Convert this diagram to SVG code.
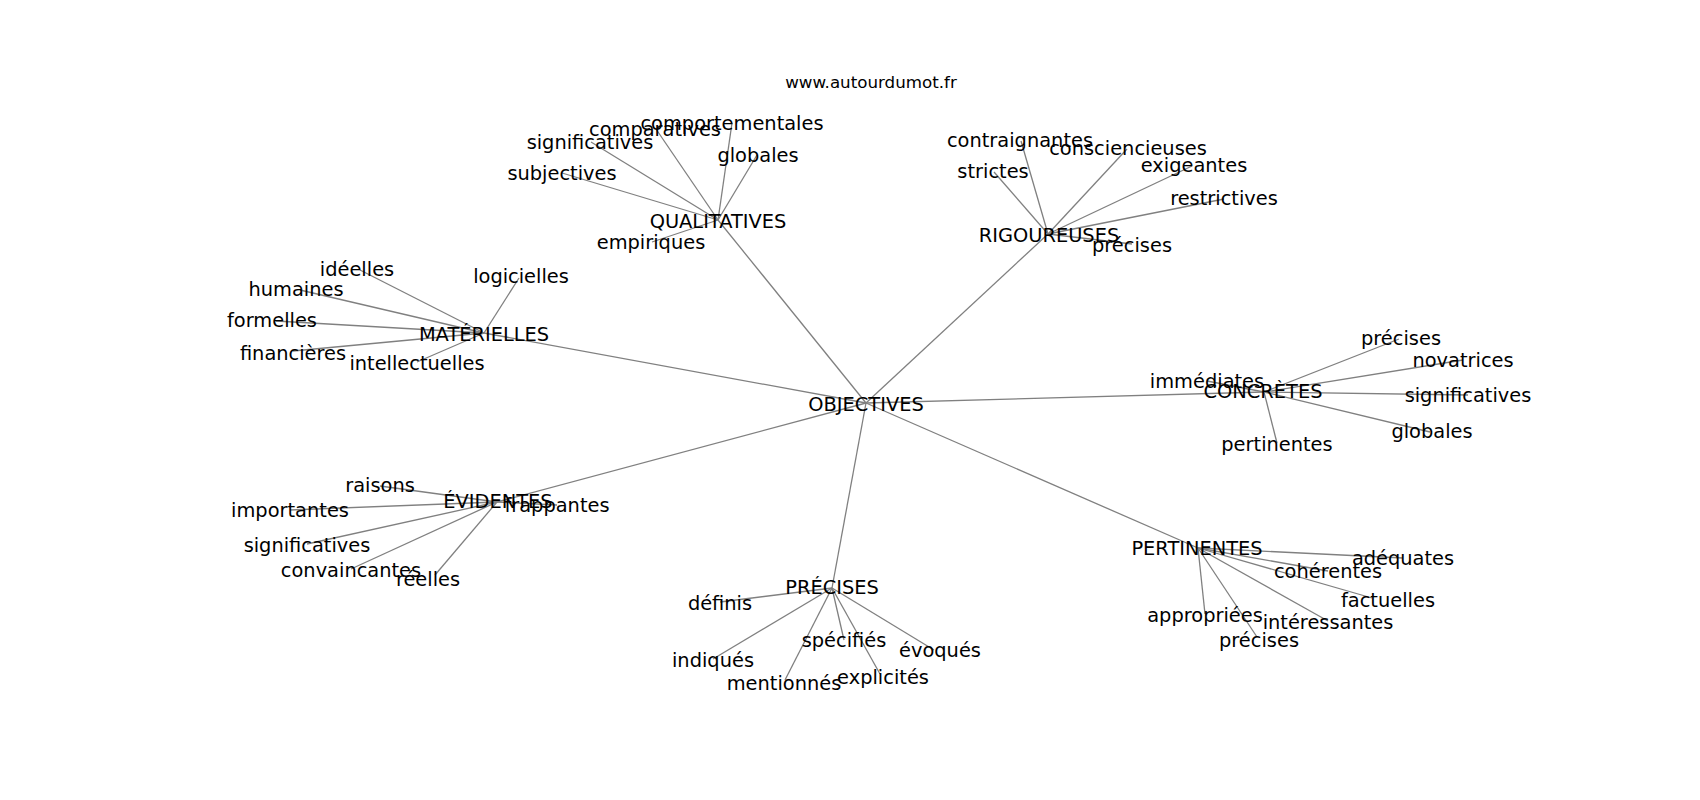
<svg xmlns="http://www.w3.org/2000/svg" width="1700" height="800" viewBox="0 0 1700 800">
<style>
text{font-family:"DejaVu Sans","Liberation Sans",sans-serif;fill:#000;text-anchor:middle}
.n text{font-size:19.4px}
.t{font-size:16.7px}
#edges line{stroke:#808080;stroke-width:1.3}
</style>
<rect width="1700" height="800" fill="#fff"/>
<text class="t" x="871" y="88">www.autourdumot.fr</text>
<g id="edges">
<line x1="866" y1="403" x2="718" y2="220"/>
<line x1="866" y1="403" x2="1048" y2="234"/>
<line x1="866" y1="403" x2="484" y2="333"/>
<line x1="866" y1="403" x2="1264" y2="392"/>
<line x1="866" y1="403" x2="497" y2="502"/>
<line x1="866" y1="403" x2="832" y2="588"/>
<line x1="866" y1="403" x2="1198" y2="548"/>
<line x1="718" y1="220" x2="732" y2="123"/>
<line x1="718" y1="220" x2="656" y2="129"/>
<line x1="718" y1="220" x2="591" y2="142"/>
<line x1="718" y1="220" x2="757" y2="155"/>
<line x1="718" y1="220" x2="562" y2="173"/>
<line x1="718" y1="220" x2="652" y2="242"/>
<line x1="1048" y1="234" x2="1021" y2="141"/>
<line x1="1048" y1="234" x2="994" y2="172"/>
<line x1="1048" y1="234" x2="1127" y2="149"/>
<line x1="1048" y1="234" x2="1192" y2="166"/>
<line x1="1048" y1="234" x2="1224" y2="199"/>
<line x1="1048" y1="234" x2="1132" y2="244"/>
<line x1="484" y1="333" x2="360" y2="270"/>
<line x1="484" y1="333" x2="300" y2="290"/>
<line x1="484" y1="333" x2="276" y2="321"/>
<line x1="484" y1="333" x2="293" y2="351"/>
<line x1="484" y1="333" x2="519" y2="278"/>
<line x1="484" y1="333" x2="417" y2="362"/>
<line x1="1264" y1="392" x2="1207" y2="381"/>
<line x1="1264" y1="392" x2="1399" y2="339"/>
<line x1="1264" y1="392" x2="1463" y2="360"/>
<line x1="1264" y1="392" x2="1468" y2="395"/>
<line x1="1264" y1="392" x2="1430" y2="432"/>
<line x1="1264" y1="392" x2="1277" y2="443"/>
<line x1="497" y1="502" x2="380" y2="486"/>
<line x1="497" y1="502" x2="290" y2="510"/>
<line x1="497" y1="502" x2="307" y2="544"/>
<line x1="497" y1="502" x2="351" y2="569"/>
<line x1="497" y1="502" x2="435" y2="575"/>
<line x1="497" y1="502" x2="557" y2="505"/>
<line x1="832" y1="588" x2="720" y2="602"/>
<line x1="832" y1="588" x2="713" y2="659"/>
<line x1="832" y1="588" x2="844" y2="640"/>
<line x1="832" y1="588" x2="934" y2="650"/>
<line x1="832" y1="588" x2="785" y2="680"/>
<line x1="832" y1="588" x2="880" y2="674"/>
<line x1="1198" y1="548" x2="1403" y2="558"/>
<line x1="1198" y1="548" x2="1328" y2="571"/>
<line x1="1198" y1="548" x2="1372" y2="598"/>
<line x1="1198" y1="548" x2="1205" y2="614"/>
<line x1="1198" y1="548" x2="1328" y2="621"/>
<line x1="1198" y1="548" x2="1257" y2="637"/>
</g>
<g class="n">
<g id="n-objectives"><text x="866" y="411">OBJECTIVES</text></g>
<g id="n-qualitatives"><text x="718" y="228">QUALITATIVES</text></g>
<g id="n-q-comportementales"><text x="732" y="130">comportementales</text></g>
<g id="n-q-comparatives"><text x="655" y="136">comparatives</text></g>
<g id="n-q-significatives"><text x="590" y="149">significatives</text></g>
<g id="n-q-globales"><text x="758" y="162">globales</text></g>
<g id="n-q-subjectives"><text x="562" y="180">subjectives</text></g>
<g id="n-q-empiriques"><text x="651" y="249">empiriques</text></g>
<g id="n-rigoureuses"><text x="1049" y="242">RIGOUREUSES</text></g>
<g id="n-r-contraignantes"><text x="1020" y="147">contraignantes</text></g>
<g id="n-r-strictes"><text x="993" y="178">strictes</text></g>
<g id="n-r-consciencieuses"><text x="1128" y="155">consciencieuses</text></g>
<g id="n-r-exigeantes"><text x="1194" y="172">exigeantes</text></g>
<g id="n-r-restrictives"><text x="1224" y="205">restrictives</text></g>
<g id="n-r-precises"><text x="1132" y="252">précises</text></g>
<g id="n-materielles"><text x="484" y="341">MATÉRIELLES</text></g>
<g id="n-m-ideelles"><text x="357" y="276">idéelles</text></g>
<g id="n-m-humaines"><text x="296" y="296">humaines</text></g>
<g id="n-m-formelles"><text x="272" y="327">formelles</text></g>
<g id="n-m-financieres"><text x="293" y="360">financières</text></g>
<g id="n-m-logicielles"><text x="521" y="283">logicielles</text></g>
<g id="n-m-intellectuelles"><text x="417" y="370">intellectuelles</text></g>
<g id="n-concretes"><text x="1263" y="398">CONCRÈTES</text></g>
<g id="n-c-immediates"><text x="1207" y="388">immédiates</text></g>
<g id="n-c-precises"><text x="1401" y="345">précises</text></g>
<g id="n-c-novatrices"><text x="1463" y="367">novatrices</text></g>
<g id="n-c-significatives"><text x="1468" y="402">significatives</text></g>
<g id="n-c-globales"><text x="1432" y="438">globales</text></g>
<g id="n-c-pertinentes"><text x="1277" y="451">pertinentes</text></g>
<g id="n-evidentes"><text x="498" y="508">ÉVIDENTES</text></g>
<g id="n-e-raisons"><text x="380" y="492">raisons</text></g>
<g id="n-e-importantes"><text x="290" y="517">importantes</text></g>
<g id="n-e-significatives"><text x="307" y="552">significatives</text></g>
<g id="n-e-convaincantes"><text x="351" y="577">convaincantes</text></g>
<g id="n-e-reelles"><text x="428" y="586">réelles</text></g>
<g id="n-e-frappantes"><text x="557" y="512">frappantes</text></g>
<g id="n-precises"><text x="832" y="594">PRÉCISES</text></g>
<g id="n-p-definis"><text x="720" y="610">définis</text></g>
<g id="n-p-indiques"><text x="713" y="667">indiqués</text></g>
<g id="n-p-specifies"><text x="844" y="647">spécifiés</text></g>
<g id="n-p-evoques"><text x="940" y="657">évoqués</text></g>
<g id="n-p-mentionnes"><text x="784" y="690">mentionnés</text></g>
<g id="n-p-explicites"><text x="883" y="684">explicités</text></g>
<g id="n-pertinentes"><text x="1197" y="555">PERTINENTES</text></g>
<g id="n-pe-adequates"><text x="1403" y="565">adéquates</text></g>
<g id="n-pe-coherentes"><text x="1328" y="578">cohérentes</text></g>
<g id="n-pe-factuelles"><text x="1388" y="607">factuelles</text></g>
<g id="n-pe-appropriees"><text x="1205" y="622">appropriées</text></g>
<g id="n-pe-interessantes"><text x="1328" y="629">intéressantes</text></g>
<g id="n-pe-precises"><text x="1259" y="647">précises</text></g>
</g>
</svg>
